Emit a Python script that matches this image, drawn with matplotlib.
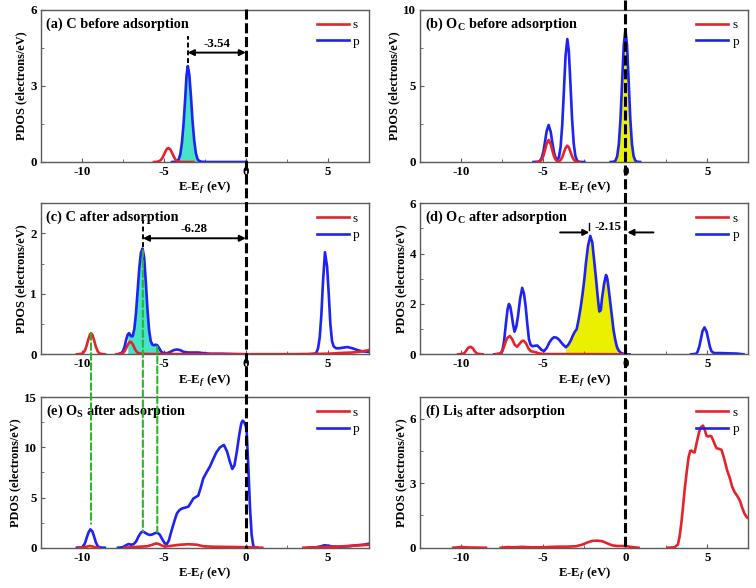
import matplotlib
matplotlib.use("Agg")
import matplotlib.pyplot as plt
import matplotlib.transforms as mtransforms
import numpy as np
from matplotlib.lines import Line2D
from matplotlib.patches import ConnectionPatch
from matplotlib.ticker import AutoMinorLocator

plt.rcParams["font.family"] = ["Liberation Serif", "DejaVu Serif"]
plt.rcParams["font.weight"] = "bold"
plt.rcParams["axes.labelweight"] = "bold"
plt.rcParams["axes.unicode_minus"] = False
plt.rcParams["mathtext.fontset"] = "custom"
plt.rcParams["mathtext.rm"] = "Liberation Serif:bold"
plt.rcParams["mathtext.bf"] = "Liberation Serif:bold"
plt.rcParams["mathtext.it"] = "Liberation Serif:italic:bold"

nan = np.nan

# ---- data (energy E-Ef in eV, PDOS in electrons/eV) ----
# (a) C before adsorption
a_s_x = [-5.6, -5.4, -5.3, -5.2, -5.1, -5.0, -4.9, -4.8, -4.72, -4.6, -4.5, -4.4, -4.3, -4.2, -4.1, -3.9, -3.5, -3.2]
a_s_y = [0.0, 0.01, 0.03, 0.07, 0.15, 0.28, 0.42, 0.53, 0.55, 0.49, 0.36, 0.22, 0.1, 0.04, 0.01, 0.0, 0.0, 0.0]
a_p_x = [-4.5, -4.3, -4.2, -4.1, -4.0, -3.9, -3.8, -3.7, -3.62, -3.54, -3.45, -3.35, -3.25, -3.15, -3.05, -2.95,
         -2.85, -2.7, -2.3, -1.5, -0.5, 0.0]
a_p_y = [0.0, 0.01, 0.03, 0.1, 0.3, 0.75, 1.5, 2.5, 3.4, 3.78, 3.45, 2.6, 1.6, 0.85, 0.35, 0.12,
         0.04, 0.01, 0.0, 0.0, 0.0, 0.0]

# (b) Oc before adsorption
b_s_x = [-5.4, -5.3, -5.2, -5.1, -5.0, -4.9, -4.8, -4.68, -4.55, -4.45, -4.35, -4.25, -4.15, -4.05, -3.95, -3.85,
         -3.75, -3.65, -3.54, -3.45, -3.35, -3.25, -3.15, -3.05, -2.95, -2.8]
b_s_y = [0.0, 0.01, 0.05, 0.16, 0.4, 0.79, 1.21, 1.45, 1.17, 0.75, 0.37, 0.15, 0.05, 0.05, 0.13, 0.32,
         0.62, 0.92, 1.07, 0.96, 0.68, 0.37, 0.16, 0.05, 0.01, 0.0]
b_p_x = [-5.6, -5.4, -5.3, -5.2, -5.1, -5.0, -4.9, -4.8, -4.68, -4.55, -4.45, -4.35, -4.25, -4.15, -4.05, -3.95,
         -3.85, -3.75, -3.65, -3.54, -3.45, -3.35, -3.25, -3.15, -3.05, -2.95, -2.85, -2.7, -2.5, nan,
         -0.9, -0.7, -0.6, -0.5, -0.4, -0.3, -0.2, -0.1, 0.0, 0.1, 0.2, 0.3, 0.4, 0.5, 0.6, 0.7, 0.9]
b_p_y = [0.0, 0.01, 0.02, 0.08, 0.27, 0.68, 1.33, 2.03, 2.43, 1.97, 1.25, 0.62, 0.26, 0.15, 0.32, 0.99,
         2.44, 4.65, 6.94, 8.07, 7.3, 5.14, 2.82, 1.2, 0.4, 0.1, 0.02, 0.0, 0.0, nan,
         0.0, 0.02, 0.1, 0.38, 1.17, 2.82, 5.27, 7.66, 8.68, 7.66, 5.27, 2.82, 1.17, 0.38, 0.1, 0.02, 0.0]

# (c) C after adsorption
c_s_x = [-10.3, -10.0, -9.9, -9.8, -9.7, -9.6, -9.5, -9.44, -9.35, -9.25, -9.15, -9.05, -8.95, -8.8, -8.6, nan,
         -7.9, -7.6, -7.5, -7.4, -7.3, -7.2, -7.1, -7.05, -6.95, -6.85, -6.75, -6.65, -6.55, -6.4, -6.0, -5.0,
         -3.0, 0.0, 3.0, 5.0, 6.0, 6.5, 7.0, 7.5]
c_s_y = [0.0, 0.01, 0.03, 0.07, 0.15, 0.25, 0.33, 0.35, 0.32, 0.23, 0.13, 0.06, 0.02, 0.005, 0.0, nan,
         0.0, 0.01, 0.02, 0.05, 0.1, 0.16, 0.2, 0.21, 0.19, 0.14, 0.08, 0.04, 0.02, 0.01, 0.005, 0.005,
         0.003, 0.002, 0.003, 0.01, 0.025, 0.03, 0.045, 0.07]
c_p_x = [-7.8, -7.6, -7.5, -7.4, -7.3, -7.2, -7.12, -7.0, -6.9, -6.8, -6.7, -6.6, -6.5, -6.4, -6.3, -6.2, -6.1,
         -6.0, -5.9, -5.8, -5.7, -5.6, -5.5, -5.4, -5.3, -5.2, -5.1, -5.0, -4.8, -4.6, -4.4, -4.2, -4.0, -3.8,
         -3.5, -3.2, -2.9, -2.6, -2.2, -1.5, -0.8, 0.0, nan,
         3.8, 4.2, 4.3, 4.4, 4.5, 4.6, 4.7, 4.82, 4.95, 5.05, 5.15, 5.25, 5.35, 5.5, 5.7, 5.9, 6.2, 6.5, 6.8,
         7.1, 7.5]
c_p_y = [0.0, 0.02, 0.05, 0.12, 0.24, 0.33, 0.35, 0.3, 0.3, 0.42, 0.68, 1.05, 1.42, 1.68, 1.75, 1.6, 1.2,
         0.75, 0.4, 0.22, 0.16, 0.15, 0.16, 0.15, 0.11, 0.06, 0.03, 0.02, 0.02, 0.04, 0.07, 0.08, 0.07, 0.04,
         0.03, 0.03, 0.03, 0.02, 0.01, 0.01, 0.005, 0.0, nan,
         0.0, 0.01, 0.03, 0.1, 0.28, 0.65, 1.2, 1.69, 1.45, 1.0, 0.5, 0.22, 0.13, 0.1, 0.1, 0.11, 0.12, 0.1, 0.07,
         0.05, 0.04]

# (d) Oc after adsorption
d_s_x = [-10.2, -9.9, -9.8, -9.7, -9.6, -9.45, -9.3, -9.2, -9.1, -9.0, -8.7, nan,
         -7.9, -7.7, -7.6, -7.5, -7.4, -7.3, -7.2, -7.05, -6.9, -6.75, -6.6, -6.45, -6.3, -6.2, -6.05, -5.9,
         -5.75, -5.6, -5.45, -5.3, -5.1, -4.8, -4.0, -2.0, 0.0]
d_s_y = [0.0, 0.02, 0.06, 0.15, 0.25, 0.3, 0.24, 0.14, 0.06, 0.02, 0.0, nan,
         0.0, 0.02, 0.05, 0.13, 0.3, 0.5, 0.65, 0.73, 0.6, 0.38, 0.3, 0.42, 0.53, 0.54, 0.43, 0.22,
         0.12, 0.1, 0.08, 0.04, 0.02, 0.01, 0.01, 0.005, 0.0]
d_p_x = [-8.0, -7.7, -7.6, -7.5, -7.4, -7.27, -7.18, -7.1, -7.02, -6.94, -6.85, -6.76, -6.65, -6.55, -6.42,
         -6.29, -6.18, -6.08, -5.98, -5.88, -5.78, -5.67, -5.52, -5.37, -5.22, -5.1, -4.96, -4.8, -4.65, -4.5,
         -4.35, -4.2, -4.04, -3.85, -3.63, -3.48, -3.33, -3.2, -3.08, -2.97, -2.86, -2.73, -2.61, -2.5, -2.41,
         -2.28, -2.14, -2.02, -1.9, -1.79, -1.69, -1.59, -1.5, -1.43, -1.3, -1.18, -1.1, -1.02, -0.92, -0.82,
         -0.72, -0.61, -0.51, -0.41, -0.28, -0.16, 0.0, 0.25, nan,
         4.0, 4.3, 4.4, 4.5, 4.6, 4.7, 4.82, 4.95, 5.05, 5.15, 5.25, 5.4, 5.8, 6.3, 6.8, 7.2]
d_p_y = [0.0, 0.02, 0.05, 0.15, 0.5, 1.3, 1.8, 2.0, 1.9, 1.6, 1.2, 0.9, 1.1, 1.5, 2.2,
         2.64, 2.4, 1.9, 1.2, 0.6, 0.38, 0.32, 0.34, 0.35, 0.25, 0.17, 0.13, 0.25, 0.45, 0.6,
         0.68, 0.66, 0.58, 0.42, 0.28, 0.38, 0.55, 0.75, 0.9, 1.0, 1.35, 1.85, 2.4, 3.0, 3.6,
         4.3, 4.7, 4.45, 3.7, 3.0, 2.3, 1.7, 1.75, 2.2, 2.8, 3.15, 3.0, 2.6, 2.05, 1.5,
         0.95, 0.55, 0.28, 0.15, 0.06, 0.03, 0.0, 0.0, nan,
         0.0, 0.02, 0.1, 0.3, 0.6, 0.92, 1.07, 0.9, 0.6, 0.3, 0.12, 0.05, 0.05, 0.04, 0.03, 0.0]

# (e) Os after adsorption
e_s_x = [-10.2, -9.8, -9.6, -9.5, -9.35, -9.15, -9.0, nan,
         -7.4, -7.0, -6.5, -6.0, -5.7, -5.5, -5.35, -5.1, -4.9, -4.5, -4.0, -3.5, -3.0, -2.6, -2.0, -1.0,
         0.0, 0.5, 1.0, nan, 3.5, 4.5, 5.5, 6.5, 7.5]
e_s_y = [0.0, 0.05, 0.15, 0.17, 0.12, 0.03, 0.0, nan,
         0.0, 0.05, 0.1, 0.15, 0.3, 0.42, 0.4, 0.2, 0.12, 0.2, 0.3, 0.35, 0.3, 0.15, 0.1, 0.08,
         0.05, 0.02, 0.0, nan, 0.0, 0.05, 0.1, 0.2, 0.3]
e_p_x = [-10.3, -10.0, -9.9, -9.8, -9.7, -9.6, -9.48, -9.35, -9.25, -9.15, -9.05, -8.95, -8.8, -8.6, nan,
         -7.8, -7.5, -7.3, -7.15, -7.0, -6.85, -6.7, -6.55, -6.4, -6.28, -6.15, -6.0, -5.85, -5.7, -5.55,
         -5.4, -5.25, -5.1, -4.95, -4.82, -4.7, -4.6, -4.46, -4.33, -4.21, -4.05, -3.91, -3.7, -3.5, -3.35,
         -3.2, -3.05, -2.9, -2.75, -2.6, -2.4, -2.19, -2.0, -1.8, -1.58, -1.34, -1.15, -0.98, -0.83, -0.7,
         -0.55, -0.4, -0.28, -0.2, -0.1, 0.0, 0.05, 0.15, 0.25, 0.35, 0.45, 0.55, 0.7, nan,
         3.8, 4.3, 4.6, 4.8, 5.0, 5.3, 5.8, 6.3, 6.8, 7.2, 7.5]
e_p_y = [0.0, 0.03, 0.15, 0.5, 1.0, 1.5, 1.83, 1.6, 1.1, 0.55, 0.2, 0.06, 0.01, 0.0, nan,
         0.0, 0.05, 0.25, 0.37, 0.3, 0.35, 0.6, 1.1, 1.5, 1.62, 1.5, 1.35, 1.27, 1.32, 1.45,
         1.5, 1.3, 0.85, 0.45, 0.37, 0.7, 1.3, 2.1, 2.8, 3.4, 3.75, 3.9, 4.0, 4.1, 4.5,
         4.9, 5.05, 5.2, 6.0, 6.9, 7.5, 8.1, 8.8, 9.5, 10.0, 10.24, 9.6, 8.6, 7.85, 8.2,
         9.6, 11.3, 12.4, 12.66, 12.5, 12.1, 11.5, 8.0, 4.0, 1.3, 0.2, 0.02, 0.0, nan,
         0.0, 0.05, 0.15, 0.25, 0.2, 0.12, 0.1, 0.15, 0.25, 0.3, 0.4]

# (f) Lis after adsorption
f_s_x = [-10.5, -10.0, -9.5, -8.5, nan,
         -7.6, -7.2, -6.8, -6.3, -5.8, -5.0, -4.5, -4.0, -3.5, -3.0, -2.6, -2.3, -2.0, -1.7, -1.4, -1.1,
         -0.8, -0.5, -0.2, 0.1, 0.4, 0.8, nan,
         2.6, 3.0, 3.2, 3.3, 3.41, 3.5, 3.61, 3.75, 3.85, 3.95, 4.02, 4.12, 4.22, 4.35, 4.5, 4.6, 4.73,
         4.85, 4.95, 5.04, 5.14, 5.24, 5.4, 5.55, 5.7, 5.86, 6.0, 6.2, 6.37, 6.5, 6.65, 6.78, 6.9, 7.0,
         7.1, 7.25, 7.4, 7.5]
f_s_y = [0.0, 0.03, 0.01, 0.0, nan,
         0.0, 0.03, 0.02, 0.04, 0.02, 0.02, 0.04, 0.05, 0.05, 0.07, 0.15, 0.25, 0.32, 0.33, 0.3, 0.2,
         0.11, 0.08, 0.08, 0.07, 0.03, 0.0, nan,
         0.0, 0.02, 0.15, 0.5, 1.14, 1.8, 2.69, 3.6, 4.2, 4.5, 4.52, 4.45, 4.43, 4.9, 5.4, 5.6, 5.68,
         5.45, 5.2, 5.17, 5.2, 5.18, 4.9, 4.63, 4.6, 4.55, 4.2, 3.6, 3.23, 2.85, 2.6, 2.45, 2.3, 2.15,
         1.9, 1.6, 1.42, 1.37]
f_p_x = []
f_p_y = []

titles = [
    "(a) C before adsorption",
    r"(b) O$_\mathbf{C}$ before adsorption",
    "(c) C after adsorption",
    r"(d) O$_\mathbf{C}$ after adsorption",
    r"(e) O$_\mathbf{S}$ after adsorption",
    r"(f) Li$_\mathbf{S}$ after adsorption",
]
ylims = [6, 10, 2.5, 6, 15, 7]
yticks = [[0, 3, 6], [0, 5, 10], [0, 1, 2], [0, 2, 4, 6], [0, 5, 10, 15], [0, 3, 6]]
xticks = [-10, -5, 0, 5]

gap_a = -3.54   # p-band centre, (a)
gap_c = -6.28   # p-band centre, (c)
gap_d = -2.15   # p-band centre, (d)

RED = "#E5232B"
BLUE = "#1E22F2"
CYAN = "#48E2C6"
YELLOW = "#EAF000"
GREEN = "#2DB42D"
SPINE = "#5a5a5a"

fig = plt.figure(figsize=(7.56, 5.88), dpi=100)
lefts = [0.054, 0.556]
bottoms = [0.7245, 0.3974, 0.0685]
heights = [0.259, 0.257, 0.256]
W = 0.434

axes = []
for r in range(3):
    for c in range(2):
        axes.append(fig.add_axes([lefts[c], bottoms[r], W, heights[r]]))

series = [
    (a_s_x, a_s_y, a_p_x, a_p_y),
    (b_s_x, b_s_y, b_p_x, b_p_y),
    (c_s_x, c_s_y, c_p_x, c_p_y),
    (d_s_x, d_s_y, d_p_x, d_p_y),
    (e_s_x, e_s_y, e_p_x, e_p_y),
    (f_s_x, f_s_y, f_p_x, f_p_y),
]
fills = {0: (-4.2, -2.85, CYAN), 1: (-0.7, 0.7, YELLOW), 2: (-7.25, -5.0, CYAN), 3: (-3.66, -0.5, YELLOW)}

for i, ax in enumerate(axes):
    sx, sy, px, py = series[i]
    if i in fills:
        lo, hi, col = fills[i]
        x = np.array(px)
        y = np.array(py)
        m = (x >= lo) & (x <= hi)
        ax.fill_between(x[m], 0, y[m], color=col, lw=0, zorder=1)
    lp, = ax.plot(px, py, color=BLUE, lw=1.9, label="p", zorder=2)
    ls, = ax.plot(sx, sy, color=RED, lw=1.9, label="s", zorder=3)
    ax.set_xlim(-12.5, 7.5)
    ax.set_ylim(0, ylims[i])
    ax.set_xticks(xticks)
    ax.set_yticks(yticks[i])
    ax.xaxis.set_minor_locator(AutoMinorLocator(2))
    ax.yaxis.set_minor_locator(AutoMinorLocator(2))
    ax.tick_params(which="both", direction="in", color=SPINE, labelsize=9.3, top=False, right=False)
    ax.tick_params(which="major", length=3, pad=3)
    ax.tick_params(which="minor", length=2)
    for sp in ax.spines.values():
        sp.set_color(SPINE)
        sp.set_linewidth(1.0)
    ax.set_xlabel(r"E-E$_\mathit{f}$ (eV)", fontsize=9.3, labelpad=1)
    ax.set_ylabel("PDOS (electrons/eV)", fontsize=8.8, labelpad=2)
    ax.text(0.015, 0.905, titles[i], transform=ax.transAxes, fontsize=10.3, fontweight="bold", va="center")
    ax.legend(handles=[ls, lp], loc="upper right", bbox_to_anchor=(1.0, 1.0), frameon=False,
              prop={"weight": "normal", "size": 9.6}, handlelength=2.4, handletextpad=0.3,
              labelspacing=0.3, borderaxespad=0.3)

ax_a, ax_b, ax_c, ax_d, ax_e, ax_f = axes
arrow = dict(arrowstyle="<|-|>", color="k", lw=1.4, mutation_scale=9, shrinkA=0, shrinkB=0)
one = dict(arrowstyle="-|>", color="k", lw=1.4, mutation_scale=9, shrinkA=0, shrinkB=0)
short = (0, (2.5, 1.5))

# (a) band centre
ax_a.annotate("", xy=(0, 4.31), xytext=(gap_a, 4.31), arrowprops=arrow)
ax_a.text(gap_a / 2, 4.65, f"{gap_a:.2f}", ha="center", va="center", fontsize=9.3, fontweight="bold")
ax_a.plot([gap_a, gap_a], [3.9, 4.95], color="k", lw=1.4, ls=short)

# (c) band centre
ax_c.annotate("", xy=(0, 1.92), xytext=(gap_c, 1.92), arrowprops=arrow)
ax_c.text(gap_c / 2, 2.07, f"{gap_c:.2f}", ha="center", va="center", fontsize=9.3, fontweight="bold")
ax_c.plot([gap_c, gap_c], [1.78, 2.2], color="k", lw=1.4, ls=short)

# (d) band centre
ax_d.annotate("", xy=(-2.2, 4.84), xytext=(-3.98, 4.84), arrowprops=one)
ax_d.annotate("", xy=(0.12, 4.84), xytext=(1.71, 4.84), arrowprops=one)
ax_d.text(-1.05, 5.07, f"{gap_d:.2f}", ha="center", va="center", fontsize=9.3, fontweight="bold")
ax_d.plot([-2.2, -2.2], [4.95, 5.2], color="k", lw=1.0)

# Fermi level lines across panels
for ax_top, ytop in ((ax_a, 0.985), (ax_b, 1.0)):
    tr = mtransforms.blended_transform_factory(ax_top.transData, fig.transFigure)
    fig.add_artist(Line2D([0, 0], [ytop, 0.0685], transform=tr, color="k", lw=2.2,
                          ls=(0, (3.3, 1.2)), zorder=5))

# green guides from (c) to (e)
for gx, yc, ye in ((-9.44, 0.35, 2.4), (-6.28, 1.72, 1.62), (-5.4, 0.13, 1.55)):
    con = ConnectionPatch(xyA=(gx, yc), coordsA=ax_c.transData, xyB=(gx, ye), coordsB=ax_e.transData,
                          color=GREEN, lw=1.5, ls=(0, (3.2, 1.6)), zorder=5)
    fig.add_artist(con)

fig.savefig("out.png", dpi=100)
